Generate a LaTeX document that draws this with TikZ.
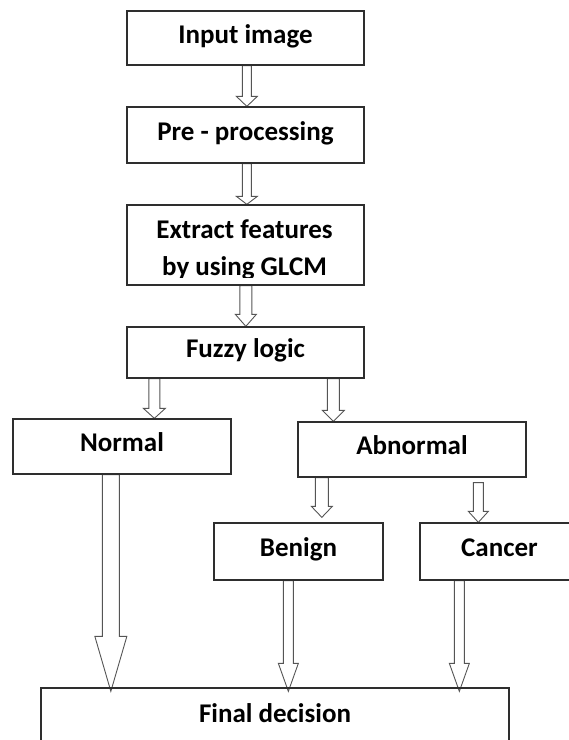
\documentclass[tikz,border=0pt]{standalone}
\usepackage{fontspec}
\setmainfont{Carlito}
\usetikzlibrary{calc,backgrounds}
\definecolor{boxline}{HTML}{2E2E2E}
\definecolor{arrline}{HTML}{555555}
\tikzset{
  box/.style={draw=boxline, line width=1.3pt, rectangle, inner sep=0pt,
    font=\fontsize{27}{36}\selectfont\bfseries, text height=18pt, text depth=8pt},
  lbl/.style={inner sep=0pt, anchor=base, font=\fontsize{27}{36}\selectfont\bfseries},
  barrow/.style n args={3}{draw=arrline, line width=0.9pt, fill=white, line join=miter,
    to path={let \p1=(\tikztostart), \p2=(\tikztotarget) in
      (\x1-#1pt,\y1) -- (\x1-#1pt,\y2+#3pt) -- (\x1-#2pt,\y2+#3pt) -- (\x1,\y2)
      -- (\x1+#2pt,\y2+#3pt) -- (\x1+#1pt,\y2+#3pt) -- (\x1+#1pt,\y1) -- cycle}}
}
\begin{document}
\begin{tikzpicture}[x=1pt,y=-1pt]
\useasboundingbox (0,0) rectangle (569,740);
% boxes
\node[box, minimum width=237pt, minimum height=54pt] (input) at (245.5,38) {Input image};
\node[box, minimum width=237pt, minimum height=56pt] (pre) at (245.5,135) {Pre - processing};
\node[box, minimum width=237pt, minimum height=80pt] (extract) at (245.5,245) {};
\begin{scope}
  \clip (127,205) rectangle (364,277);
  \node[lbl] (extract1) at (244.5,238) {Extract features};
  \node[lbl] (extract2) at (244.5,275) {by using GLCM};
\end{scope}
\node[box, minimum width=237pt, minimum height=51pt] (fuzzy) at (245.5,352.5) {Fuzzy logic};
\node[box, minimum width=218pt, minimum height=55pt] (normal) at (122,446.5) {Normal};
\node[box, minimum width=228pt, minimum height=55pt] (abnormal) at (412,449.5) {Abnormal};
\node[box, minimum width=169pt, minimum height=57pt] (benign) at (298.5,551.5) {Benign};
\node[box, minimum width=159pt, minimum height=57pt] (cancer) at (499.5,551.5) {Cancer};
\node[box, minimum width=468pt, minimum height=58pt] (final) at (275,717) {Final decision};
% block arrows
\begin{scope}[on background layer]
\draw[barrow={4.5}{10.5}{10}] ([xshift=120.5pt]input.south west) to (pre.north);
\draw[barrow={4.5}{10.5}{8}] ([xshift=120.5pt]pre.south west) to (extract.north);
\draw[barrow={6}{10.5}{12}] ([xshift=119.5pt]extract.south west) to (fuzzy.north);
\draw[barrow={5.5}{11}{10}] ([xshift=28pt]fuzzy.south west) to (normal.north);
\draw[barrow={6}{11}{11}] ([xshift=207pt]fuzzy.south west) to (abnormal.north);
\draw[barrow={6.5}{10.5}{11}] ([xshift=24.5pt]abnormal.south west) to ([yshift=5pt]benign.north);
\draw[barrow={5}{10}{11}] ([xshift=181pt,yshift=-5pt]abnormal.south west) to (cancer.north);
\draw[barrow={8.5}{16}{55}] ([xshift=98.5pt]normal.south west) to ([yshift=-4pt]final.north);
\draw[barrow={5}{10}{28}] ([xshift=75pt]benign.south west) to ([yshift=-4pt]final.north);
\draw[barrow={5}{10}{28}] ([xshift=40pt]cancer.south west) to ([yshift=-4pt]final.north);
\end{scope}
\end{tikzpicture}
\end{document}
